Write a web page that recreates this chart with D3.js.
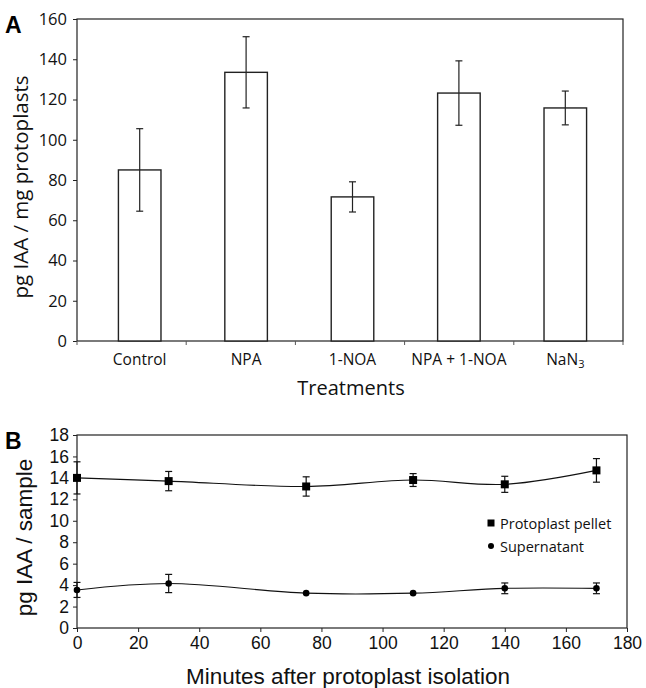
<!DOCTYPE html>
<html>
<head>
<meta charset="utf-8">
<script src="https://cdn.jsdelivr.net/npm/d3@7"></script>
<style>
  body { margin: 0; background: #fff; }
  svg { display: block; }
</style>
</head>
<body>
<svg id="chart"></svg>
<script>
// Panel A data
const treatments = ["Control", "NPA", "1-NOA", "NPA + 1-NOA", "NaN3"];
const iaaMeans = [85, 133.5, 71.6, 123.2, 115.8];
const iaaErrors = [20.5, 17.7, 7.5, 16, 8.4];
const yTicksA = [0, 20, 40, 60, 80, 100, 120, 140, 160];

// Panel B data
const minutes = [0, 30, 75, 110, 140, 170];
const pellet = [14.0, 13.7, 13.2, 13.8, 13.4, 14.7];
const pelletErr = [1.5, 0.9, 0.9, 0.6, 0.75, 1.1];
const supernatant = [3.55, 4.15, 3.25, 3.25, 3.7, 3.7];
const supernatantErr = [0.7, 0.85, 0, 0, 0.5, 0.5];
const xTicksB = [0, 20, 40, 60, 80, 100, 120, 140, 160, 180];
const yTicksB = [0, 2, 4, 6, 8, 10, 12, 14, 16, 18];

const svg = d3.select("#chart").attr("width", 646).attr("height", 688);

const fontA = "'Open Sans', 'Noto Sans', sans-serif";
const fontB = "'Liberation Sans', Arial, sans-serif";

/**
 * Panel A: bar chart with error bars
 */
function drawPanelA() {
    const left = 77, right = 623, top = 19, bottom = 341;

    const y = d3.scaleLinear().domain([0, 160]).range([bottom, top]);
    // tick positions on the axis
    const xAxisScale = d3.scaleBand().domain(treatments).range([left, right]);
    // bars sit slightly inside the axis bands
    const xBar = d3.scaleBand().domain(treatments).range([86.5, 618.5]).paddingInner(0.6).paddingOuter(0.3);

    const g = svg.append("g");

    // frame
    g.append("rect")
        .attr("x", left).attr("y", top)
        .attr("width", right - left).attr("height", bottom - top)
        .attr("fill", "none").attr("stroke", "#222").attr("stroke-width", 1.2);

    // y axis
    const yAxis = d3.axisLeft(y).tickValues(yTicksA).tickSize(4).tickPadding(6);
    g.append("g")
        .attr("transform", `translate(${left},0)`)
        .call(yAxis)
        .call(a => a.select(".domain").remove())
        .call(a => a.selectAll("line").attr("stroke", "#222"))
        .call(a => a.selectAll("text")
            .style("font-family", fontA).style("font-size", "16.5px").attr("fill", "#111"));

    // x tick marks at band edges
    const edges = treatments.map(t => xAxisScale(t)).concat([right]);
    g.selectAll(".xtick")
        .data(edges)
        .enter().append("line")
        .attr("x1", d => d).attr("x2", d => d)
        .attr("y1", bottom).attr("y2", bottom + 4)
        .attr("stroke", "#555");

    // bars
    g.selectAll(".bar")
        .data(treatments)
        .enter().append("rect")
        .attr("x", d => xBar(d))
        .attr("y", (d, i) => y(iaaMeans[i]))
        .attr("width", xBar.bandwidth())
        .attr("height", (d, i) => bottom - y(iaaMeans[i]))
        .attr("fill", "#fff").attr("stroke", "#222").attr("stroke-width", 1.4);

    // error bars
    const err = g.selectAll(".err")
        .data(treatments)
        .enter().append("g")
        .attr("transform", d => `translate(${xBar(d) + xBar.bandwidth() / 2},0)`);
    err.append("line")
        .attr("y1", (d, i) => y(iaaMeans[i] + iaaErrors[i]))
        .attr("y2", (d, i) => y(iaaMeans[i] - iaaErrors[i]))
        .attr("stroke", "#222").attr("stroke-width", 1.2);
    err.selectAll(".cap")
        .data((d, i) => [iaaMeans[i] + iaaErrors[i], iaaMeans[i] - iaaErrors[i]])
        .enter().append("line")
        .attr("x1", -3.5).attr("x2", 3.5)
        .attr("y1", v => y(v)).attr("y2", v => y(v))
        .attr("stroke", "#222").attr("stroke-width", 1.2);

    // category labels
    const labels = g.selectAll(".cat")
        .data(treatments)
        .enter().append("text")
        .attr("x", d => xBar(d) + xBar.bandwidth() / 2)
        .attr("y", 365)
        .attr("text-anchor", "middle")
        .style("font-family", fontA).style("font-size", "15.5px")
        .attr("fill", "#111");
    labels.each(function (d) {
        const t = d3.select(this);
        if (d === "NaN3") {
            t.append("tspan").text("NaN");
            t.append("tspan").text("3").attr("dy", 3).style("font-size", "11px");
        } else {
            t.text(d);
        }
    });

    // axis titles
    g.append("text")
        .attr("x", (left + right) / 2 + 1)
        .attr("y", 395)
        .attr("text-anchor", "middle")
        .style("font-family", fontA).style("font-size", "20px")
        .attr("fill", "#111")
        .text("Treatments");

    g.append("text")
        .attr("transform", `translate(28,${(top + bottom) / 2 + 7}) rotate(-90)`)
        .attr("text-anchor", "middle")
        .style("font-family", fontA).style("font-size", "20.5px")
        .attr("fill", "#111")
        .text("pg IAA / mg protoplasts");

    // panel letter
    g.append("text")
        .attr("x", 5).attr("y", 33)
        .style("font-family", fontB).style("font-size", "23px").style("font-weight", "bold")
        .text("A");
}

/**
 * Panel B: time course with smoothed lines
 */
function drawPanelB() {
    const left = 77, right = 627, top = 435, bottom = 628;

    const x = d3.scaleLinear().domain([0, 180]).range([left, right]);
    const y = d3.scaleLinear().domain([0, 18]).range([bottom, top]);

    const g = svg.append("g");

    g.append("rect")
        .attr("x", left).attr("y", top)
        .attr("width", right - left).attr("height", bottom - top)
        .attr("fill", "none").attr("stroke", "#222").attr("stroke-width", 1.2);

    const styleText = sel => sel.selectAll("text")
        .style("font-family", fontB).style("font-size", "17.5px").attr("fill", "#111");

    g.append("g")
        .attr("transform", `translate(0,${bottom})`)
        .call(d3.axisBottom(x).tickValues(xTicksB).tickSize(4).tickPadding(5))
        .call(a => a.select(".domain").remove())
        .call(a => a.selectAll("line").attr("stroke", "#222"))
        .call(styleText);

    g.append("g")
        .attr("transform", `translate(${left},0)`)
        .call(d3.axisLeft(y).tickValues(yTicksB).tickSize(4).tickPadding(4))
        .call(a => a.select(".domain").remove())
        .call(a => a.selectAll("line").attr("stroke", "#222"))
        .call(styleText);

    const line = d3.line()
        .x(d => x(d.t))
        .y(d => y(d.v))
        .curve(d3.curveCatmullRom.alpha(0.5));

    const series = [
        { name: "Protoplast pellet", values: pellet, errs: pelletErr, shape: "square" },
        { name: "Supernatant", values: supernatant, errs: supernatantErr, shape: "circle" }
    ];

    series.forEach(s => {
        const pts = minutes.map((t, i) => ({ t: t, v: s.values[i], e: s.errs[i] }));

        g.append("path")
            .datum(pts)
            .attr("d", line)
            .attr("fill", "none").attr("stroke", "#111").attr("stroke-width", 1.1);

        const eb = g.selectAll(null)
            .data(pts.filter(p => p.e > 0))
            .enter().append("g")
            .attr("transform", p => `translate(${x(p.t)},0)`);
        eb.append("line")
            .attr("y1", p => y(p.v + p.e)).attr("y2", p => y(p.v - p.e))
            .attr("stroke", "#111").attr("stroke-width", 1.2);
        eb.selectAll(".cap")
            .data(p => [p.v + p.e, p.v - p.e])
            .enter().append("line")
            .attr("x1", -3.5).attr("x2", 3.5)
            .attr("y1", v => y(v)).attr("y2", v => y(v))
            .attr("stroke", "#111").attr("stroke-width", 1.2);

        if (s.shape === "square") {
            g.selectAll(null)
                .data(pts)
                .enter().append("rect")
                .attr("x", p => x(p.t) - 4).attr("y", p => y(p.v) - 4)
                .attr("width", 8).attr("height", 8)
                .attr("fill", "#000");
        } else {
            g.selectAll(null)
                .data(pts)
                .enter().append("circle")
                .attr("cx", p => x(p.t)).attr("cy", p => y(p.v))
                .attr("r", 3.3)
                .attr("fill", "#000");
        }
    });

    // legend
    const legend = g.append("g").attr("transform", "translate(491,523)");
    series.forEach((s, i) => {
        const row = legend.append("g").attr("transform", `translate(0,${i * 23})`);
        if (s.shape === "square") {
            row.append("rect").attr("x", -3.5).attr("y", -3.5).attr("width", 7).attr("height", 7).attr("fill", "#000");
        } else {
            row.append("circle").attr("r", 3).attr("fill", "#000");
        }
        row.append("text")
            .attr("x", 9).attr("y", 5.5)
            .style("font-family", fontA).style("font-size", "14.5px")
            .attr("fill", "#111")
            .text(s.name);
    });

    // axis titles
    g.append("text")
        .attr("x", (left + right) / 2 - 4)
        .attr("y", 684)
        .attr("text-anchor", "middle")
        .style("font-family", fontB).style("font-size", "22.5px")
        .attr("fill", "#111")
        .text("Minutes after protoplast isolation");

    g.append("text")
        .attr("transform", `translate(32,${(top + bottom) / 2 + 6}) rotate(-90)`)
        .attr("text-anchor", "middle")
        .style("font-family", fontB).style("font-size", "22.5px")
        .attr("fill", "#111")
        .text("pg IAA / sample");

    g.append("text")
        .attr("x", 5).attr("y", 449)
        .style("font-family", fontB).style("font-size", "23px").style("font-weight", "bold")
        .text("B");
}

drawPanelA();
drawPanelB();
</script>
</body>
</html>
